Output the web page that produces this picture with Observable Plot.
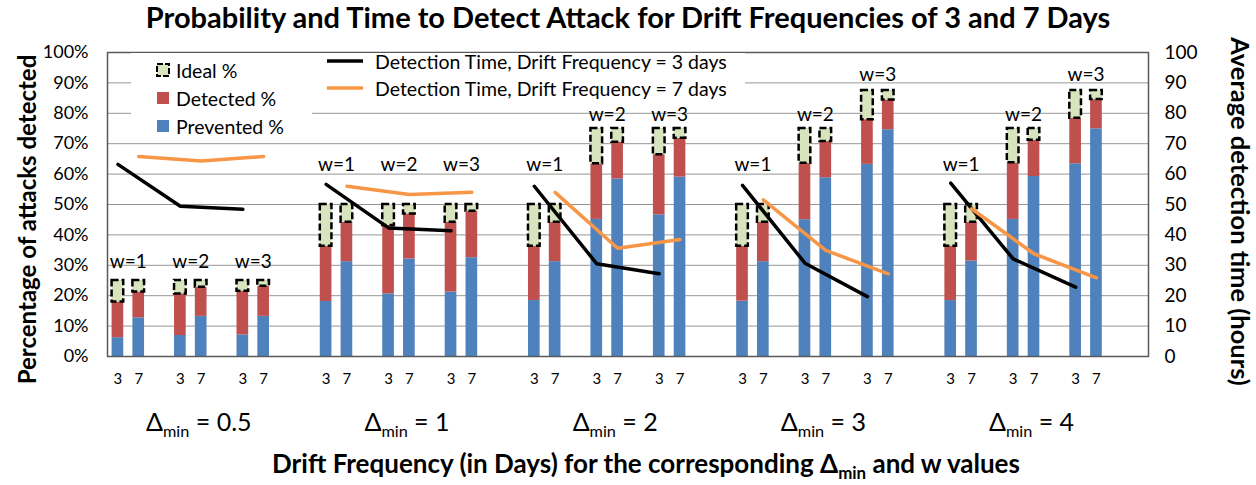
<!DOCTYPE html>
<html><head><meta charset="utf-8">
<script src="https://cdn.jsdelivr.net/npm/d3@7"></script>
<script src="https://cdn.jsdelivr.net/npm/@observablehq/plot@0.6"></script>
<style>body{margin:0;background:#fff} svg{display:block}</style>
</head><body><div id="chart"></div>
<script>
// ---------- data ----------
const deltaMin = ["0.5", "1", "2", "3", "4"];
const wValues = [1, 2, 3];
const driftDays = ["3", "7"];
// order within each Δmin group: w1/3d, w1/7d, w2/3d, w2/7d, w3/3d, w3/7d
const prevented = [
  [6.2, 12.7, 6.9, 13.2, 7.1, 13.2],
  [18.1, 31.2, 20.6, 32.1, 21.2, 32.5],
  [18.4, 31.2, 45.1, 58.4, 46.6, 59.0],
  [18.2, 31.2, 45.0, 58.8, 63.2, 74.6],
  [18.4, 31.4, 45.1, 59.2, 63.4, 74.9]
];
const detected = [
  [11.7, 8.5, 13.7, 9.6, 14.4, 9.9],
  [18.2, 13.0, 22.5, 14.8, 23.0, 15.3],
  [17.9, 13.0, 18.3, 12.1, 19.8, 12.8],
  [18.1, 13.0, 18.6, 11.9, 14.7, 9.8],
  [17.9, 12.8, 18.6, 11.9, 15.0, 9.6]
];
const ideal = [
  [25, 25, 25, 25, 25, 25],
  [50, 50, 50, 50, 50, 50],
  [50, 50, 75, 75, 75, 75],
  [50, 50, 75, 75, 87.5, 87.5],
  [50, 50, 75, 75, 87.5, 87.5]
];
// average detection time (hours), per w
const time3 = [[63.2, 49.4, 48.4], [56.6, 42.3, 41.4], [56.0, 30.5, 27.2], [56.3, 30.7, 19.7], [57.0, 32.1, 22.8]];
const time7 = [[65.8, 64.3, 65.8], [56.0, 53.3, 54.0], [54.0, 35.6, 38.5], [51.5, 34.9, 27.2], [48.6, 33.8, 25.9]];
// height (in %) of the "w=" annotations
const wLabelLevel = [[31, 31, 31], [63, 63, 63], [63, 79.5, 79.5], [63, 79.5, 92.5], [63, 79.5, 92.5]];
const pctTicks = [0, 10, 20, 30, 40, 50, 60, 70, 80, 90, 100];
const hourTicks = [0, 10, 20, 30, 40, 50, 60, 70, 80, 90, 100];
const gridLevels = [10, 20, 30, 40, 50, 60, 70, 80, 90];

const title = "Probability and Time to Detect Attack for Drift Frequencies of 3 and 7 Days";
const yLeftLabel = "Percentage of attacks detected";
const yRightLabel = "Average detection time (hours)";
const xLabel = "Drift Frequency (in Days) for the corresponding Δmin and w values";

// ---------- build tables ----------
const SLOTS = 50;
const slotOf = (g, w, f) => g * 10 + w * 3 + f;
const bars = [];
deltaMin.forEach((d, g) => wValues.forEach((w, wi) => driftDays.forEach((f, fi) => {
  const k = wi * 2 + fi;
  const p = prevented[g][k], dt = detected[g][k];
  bars.push({slot: slotOf(g, wi, fi), prevented: p, detTop: p + dt, ideal: ideal[g][k]});
})));
const lines = [];
deltaMin.forEach((d, g) => wValues.forEach((w, wi) => {
  lines.push({slot: slotOf(g, wi, 0), g, hours: time3[g][wi], s: "3"});
  lines.push({slot: slotOf(g, wi, 1), g, hours: time7[g][wi], s: "7"});
}));
const wLabels = [];
deltaMin.forEach((d, g) => wValues.forEach((w, wi) => wLabels.push({slot: slotOf(g, wi, 0), y: wLabelLevel[g][wi], text: "w=" + w})));
const groupLabels = deltaMin.map((d, g) => ({slot: g * 10 + 3, text: "Δmin = " + d}));
const barSlots = bars.map(b => b.slot);

const FONT = "Lato, 'Open Sans', sans-serif";
const BLUE = "#4F81BD", RED = "#C0504D", GREEN = "#D7E4BD", ORANGE = "#F79646";
const step = (1256 - 107 - 108) / SLOTS;

const chart = Plot.plot({
  width: 1256, height: 485,
  marginTop: 52, marginBottom: 129, marginLeft: 107, marginRight: 108,
  style: {fontFamily: FONT, color: "#000", background: "#fff"},
  x: {type: "band", domain: d3.range(SLOTS), paddingInner: 0.44, paddingOuter: 0.22, axis: null},
  y: {domain: [0, 100], axis: null},
  marks: [
    Plot.ruleY(gridLevels, {stroke: "#969696", strokeWidth: 1}),
    Plot.barY(bars, {x: "slot", y1: 0, y2: "prevented", fill: BLUE}),
    Plot.barY(bars, {x: "slot", y1: "prevented", y2: "detTop", fill: RED}),
    Plot.barY(bars, {x: "slot", y1: "detTop", y2: "ideal", fill: GREEN, stroke: "#000", strokeWidth: 2.5, strokeDasharray: "7,3"}),
    Plot.line(lines.filter(d => d.s === "3"), {x: "slot", y: "hours", z: "g", stroke: "#000", strokeWidth: 3.5, strokeLinejoin: "round"}),
    Plot.line(lines.filter(d => d.s === "7"), {x: "slot", y: "hours", z: "g", stroke: ORANGE, strokeWidth: 3.5, strokeLinejoin: "round"}),
    Plot.text(wLabels, {x: "slot", y: "y", text: "text", dx: step / 2, fontSize: 19}),
    Plot.frame({stroke: "#595959", strokeWidth: 1.5}),
    Plot.axisY(pctTicks, {anchor: "left", tickSize: 0, tickPadding: 19, tickFormat: d => d + "%", fontSize: 18, label: null}),
    Plot.axisY(hourTicks, {anchor: "right", tickSize: 0, tickPadding: 16, fontSize: 19, label: null}),
    Plot.axisX(barSlots, {anchor: "bottom", tickSize: 0, tickPadding: 17, tickFormat: s => driftDays[(s % 10) % 3], fontSize: 15, label: null}),
    Plot.text(groupLabels, {x: "slot", frameAnchor: "bottom", lineAnchor: "middle", textAnchor: "middle", dx: step / 2 + 8, dy: 66, text: "text", fontSize: 25}),
    Plot.text([title], {frameAnchor: "top", lineAnchor: "middle", textAnchor: "middle", dy: -34, fontSize: 29, fontWeight: "bold"}),
    Plot.text([yLeftLabel], {frameAnchor: "left", lineAnchor: "middle", textAnchor: "middle", dx: -79, dy: 15, rotate: -90, fontSize: 24, fontWeight: "bold"}),
    Plot.text([yRightLabel], {frameAnchor: "right", lineAnchor: "middle", textAnchor: "middle", dx: 91, dy: 7, rotate: 90, fontSize: 25.5, fontWeight: "bold"}),
    Plot.text([xLabel], {frameAnchor: "bottom", lineAnchor: "middle", textAnchor: "middle", dx: 18, dy: 108, fontSize: 26, fontWeight: "bold"})
  ]
});

// subscripts "min"
chart.querySelectorAll("text").forEach(t => {
  const s = t.textContent, i = s.indexOf("Δmin");
  if (i < 0 || t.querySelector("tspan")) return;
  const size = parseFloat(t.closest("g").getAttribute("font-size")) || 20;
  t.textContent = "";
  const d = d3.select(t);
  d.append("tspan").text(s.slice(0, i + 1));
  d.append("tspan").attr("font-size", size * 0.65).attr("dy", size * 0.25).text("min");
  d.append("tspan").attr("dy", -size * 0.25).text(s.slice(i + 4));
});

// legend (inside plot area)
const svg = d3.select(chart);
const lg = svg.append("g").attr("font-family", FONT).attr("font-size", 19.5).attr("text-anchor", "start");
lg.append("rect").attr("x", 131).attr("y", 53).attr("width", 181).attr("height", 82).attr("fill", "#fff");
lg.append("rect").attr("x", 312).attr("y", 53).attr("width", 433).attr("height", 47).attr("fill", "#fff");
const sw = [{label: "Ideal %", fill: GREEN, dash: true}, {label: "Detected %", fill: RED}, {label: "Prevented %", fill: BLUE}];
sw.forEach((s, i) => {
  const cy = 70 + i * 28;
  lg.append("rect").attr("x", 157).attr("y", cy - 6).attr("width", 12).attr("height", 12)
    .attr("fill", s.fill).attr("stroke", s.dash ? "#000" : "none").attr("stroke-width", 2).attr("stroke-dasharray", s.dash ? "6,2" : null);
  lg.append("text").attr("x", 176).attr("y", cy).attr("dominant-baseline", "central").text(s.label);
});
const ll = [{label: "Detection Time, Drift Frequency = 3 days", stroke: "#000"}, {label: "Detection Time, Drift Frequency = 7 days", stroke: ORANGE}];
ll.forEach((s, i) => {
  const cy = 61 + i * 27;
  lg.append("line").attr("x1", 327).attr("x2", 363).attr("y1", cy).attr("y2", cy).attr("stroke", s.stroke).attr("stroke-width", 3.5);
  lg.append("text").attr("x", 375).attr("y", cy).attr("dominant-baseline", "central").text(s.label);
});

document.getElementById("chart").appendChild(chart);
</script>
</body></html>
